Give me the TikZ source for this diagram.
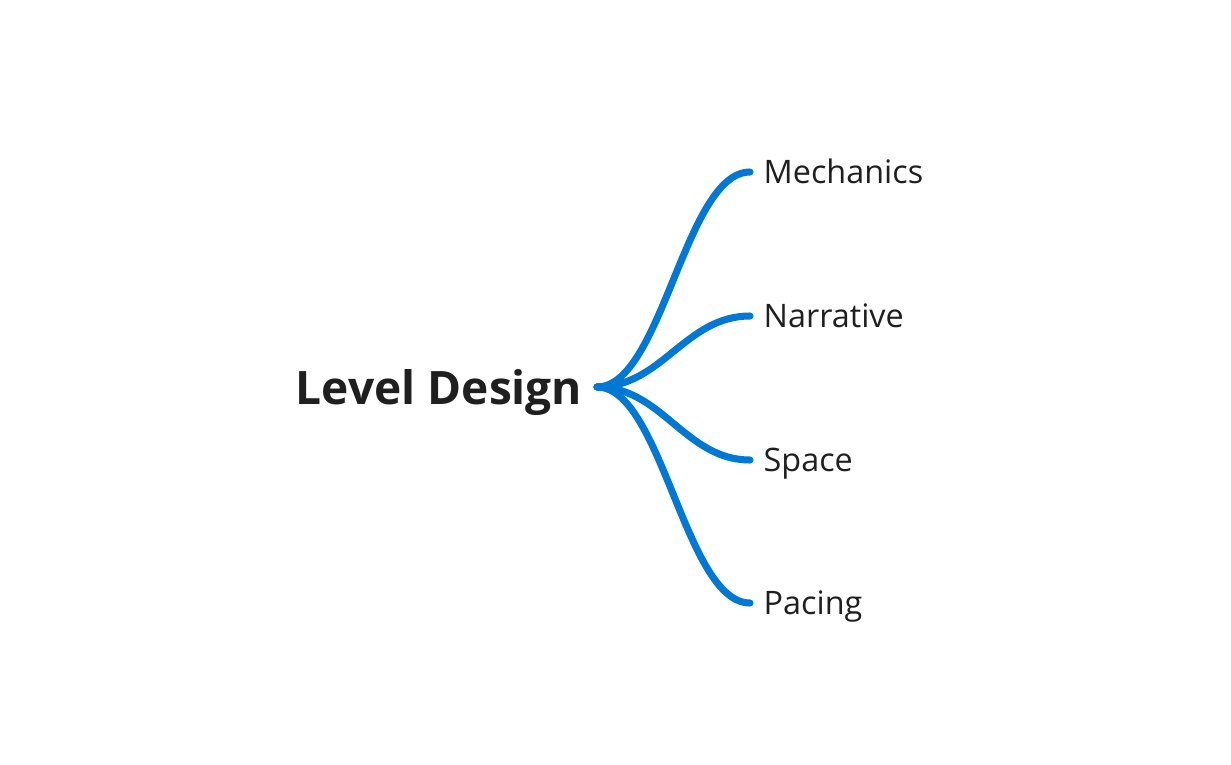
\documentclass[tikz,border=0pt]{standalone}
\usepackage{fontspec}
\setmainfont{Open Sans}
\definecolor{branchblue}{RGB}{0,120,212}
\definecolor{inkgrey}{RGB}{31,31,31}
\tikzset{
  rootnode/.style={font=\fontsize{13.1}{16}\selectfont\bfseries, text=inkgrey,
    text height=9.7pt, text depth=0pt, inner ysep=0pt, inner xsep=0.14cm, anchor=east},
  leaf/.style={font=\fontsize{9.2}{11}\selectfont, text=inkgrey,
    text height=6.6pt, text depth=0pt, inner ysep=0pt, inner xsep=0.13cm, anchor=west},
  branch/.style={draw=branchblue, line width=2pt, line cap=round}
}
\begin{document}
\begin{tikzpicture}[x=0.01cm, y=-0.01cm]
    \useasboundingbox (0,0) rectangle (1231,764);
    \node[rootnode] (root) at (597,387) {Level Design};
    \node[leaf] (mech) at (750,172) {Mechanics};
    \node[leaf] (narr) at (750,316) {Narrative};
    \node[leaf] (space) at (750,460) {Space};
    \node[leaf] (pace) at (750,603) {Pacing};
    \foreach \n in {mech,narr,space,pace}
      \draw[branch] (root.east) .. controls +(65,0) and +(-65,0) .. (\n.west);
  \end{tikzpicture}
\end{document}
